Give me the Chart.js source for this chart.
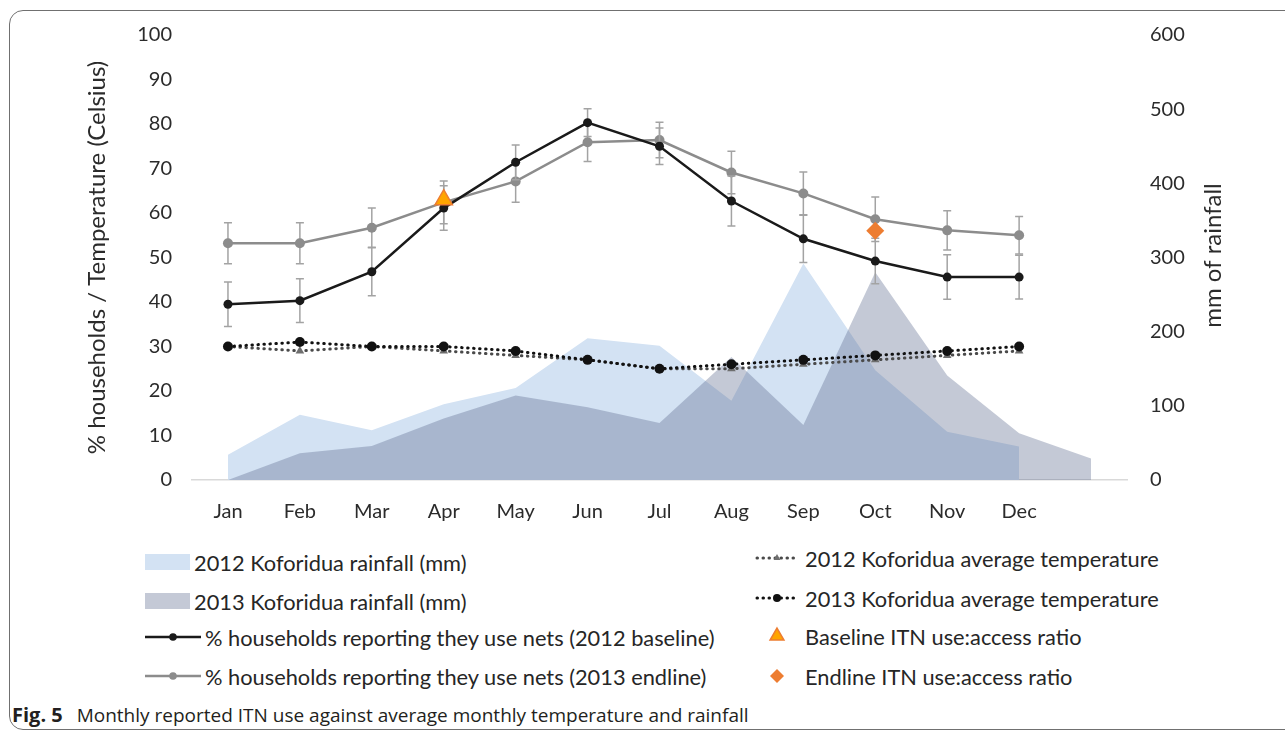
<!DOCTYPE html>
<html>
<head>
<meta charset="utf-8">
<title>Monthly reported ITN use, temperature and rainfall</title>
<script src="https://cdn.jsdelivr.net/npm/chart.js@4.4.1/dist/chart.umd.min.js"></script>
<style>
  html, body { margin: 0; padding: 0; background: #fff; }
  body { width: 1285px; height: 730px; position: relative; overflow: hidden;
         font-family: Lato, "Open Sans", sans-serif; color: #262626; }
  #frame { position: absolute; left: 9px; top: 10px; width: 1320px; height: 720px;
           border: 1.5px solid #707070; border-radius: 14px; box-sizing: border-box; }
  #chartBox { position: absolute; left: 0; top: 0; width: 1285px; height: 540px; }
  .legend-row { position: absolute; display: flex; align-items: center; height: 26px;
                font-size: 21.8px; white-space: nowrap; color: #262626; }
  .legend-row svg { flex: none; margin-right: 4px; }
  #caption { position: absolute; left: 12px; top: 704px; font-family: "Open Sans", sans-serif;
             font-size: 19px; color: #231f20; white-space: nowrap; line-height: 22px; }
  #caption b { font-weight: 700; font-size: 20px; margin-right: 9px; }
</style>
</head>
<body>
<div id="frame"></div>
<div id="chartBox"><canvas id="chart" width="1285" height="540"></canvas></div>
<div id="legend"></div>
<div id="caption"><b>Fig. 5</b> Monthly reported ITN use against average monthly temperature and rainfall</div>
<script>
// Months (the trailing empty category holds the last 2013 rainfall value)
const months = ['Jan', 'Feb', 'Mar', 'Apr', 'May', 'Jun', 'Jul', 'Aug', 'Sep', 'Oct', 'Nov', 'Dec', ''];

// Monthly rainfall, Koforidua (mm)
const rain2012 = [34, 88, 67, 102, 124, 191, 181, 107, 292, 148, 65, 45, null];
const rain2013 = [0, 36, 46, 83, 114, 98, 77, 166, 74, 280, 141, 63, 29];

// Average monthly temperature, Koforidua (Celsius)
const temp2012 = [30, 29, 30, 29, 28, 27, 25, 25, 26, 27, 28, 29];
const temp2013 = [30, 31, 30, 30, 29, 27, 25, 26, 27, 28, 29, 30];

// % households reporting they use nets, with error margins
const netUse2012 = [39.5, 40.3, 46.8, 61.1, 71.4, 80.3, 75.0, 62.7, 54.2, 49.2, 45.6, 45.6];
const netUse2012Err = [5.0, 4.9, 5.4, 5.0, 3.9, 3.1, 4.1, 5.6, 5.3, 5.1, 5.0, 4.9];
const netUse2013 = [53.2, 53.2, 56.7, 62.4, 67.1, 75.9, 76.4, 69.1, 64.4, 58.6, 56.1, 55.0];
const netUse2013Err = [4.6, 4.6, 4.4, 4.8, 4.7, 4.3, 4.0, 4.8, 4.8, 5.0, 4.4, 4.2];

// ITN use:access ratios
const baselineRatio = [null, null, null, 63, null, null, null, null, null, null, null, null];
const endlineRatio = [null, null, null, null, null, null, null, null, null, 56, null, null];

// Axis ticks
const leftTicks = [0, 10, 20, 30, 40, 50, 60, 70, 80, 90, 100];
const rightTicks = [0, 100, 200, 300, 400, 500, 600];

const TEXT = '#2b2b2b';
const FONT = 'Lato';

// Vertical error bars with caps, drawn just before the owning line
const errorBars = {
  id: 'errorBars',
  beforeDatasetDraw(chart, args) {
    const ds = chart.data.datasets[args.index];
    if (!ds.errors) return;
    const yScale = chart.scales[args.meta.yAxisID];
    const ctx = chart.ctx;
    ctx.save();
    ctx.strokeStyle = '#a3a3a3';
    ctx.lineWidth = 1.5;
    args.meta.data.forEach((pt, i) => {
      const v = ds.data[i], e = ds.errors[i];
      if (v == null || e == null) return;
      const yt = yScale.getPixelForValue(v + e);
      const yb = yScale.getPixelForValue(v - e);
      ctx.beginPath();
      ctx.moveTo(pt.x, yt); ctx.lineTo(pt.x, yb);
      ctx.moveTo(pt.x - 4, yt); ctx.lineTo(pt.x + 4, yt);
      ctx.moveTo(pt.x - 4, yb); ctx.lineTo(pt.x + 4, yb);
      ctx.stroke();
    });
    ctx.restore();
  }
};

// Right-axis title written bottom-to-top, like the left one
const risingTitle = {
  id: 'risingTitle',
  afterDraw(chart, args, opts) {
    const s = chart.scales[opts.scaleID];
    const ctx = chart.ctx;
    ctx.save();
    ctx.translate(s.right - opts.offset, (s.top + s.bottom) / 2 - 2);
    ctx.rotate(-Math.PI / 2);
    ctx.fillStyle = opts.color;
    ctx.font = `${opts.size}px ${FONT}`;
    ctx.textAlign = 'center';
    ctx.textBaseline = 'middle';
    ctx.fillText(opts.text, 0, 0);
    ctx.restore();
  }
};

const datasets = [
  {
    label: '2012 Koforidua rainfall (mm)', data: rain2012, yAxisID: 'y1',
    fill: 'origin', backgroundColor: '#d3e2f3', borderWidth: 0, pointRadius: 0, order: 20
  },
  {
    label: '2013 Koforidua rainfall (mm)', data: rain2013, yAxisID: 'y1',
    fill: 'origin', backgroundColor: 'rgba(92,106,140,0.36)', borderWidth: 0, pointRadius: 0, order: 19
  },
  {
    label: '% households reporting they use nets (2012 baseline)', data: netUse2012, errors: netUse2012Err,
    yAxisID: 'y', borderColor: '#1a1a1a', backgroundColor: '#1a1a1a', borderWidth: 2.5,
    pointRadius: 4.5, pointBorderWidth: 0, order: 3
  },
  {
    label: '% households reporting they use nets (2013 endline)', data: netUse2013, errors: netUse2013Err,
    yAxisID: 'y', borderColor: '#8c8c8c', backgroundColor: '#8c8c8c', borderWidth: 2.5,
    pointRadius: 5, pointBorderWidth: 0, order: 4
  },
  {
    label: '2012 Koforidua average temperature', data: temp2012, yAxisID: 'y',
    borderColor: '#4a4a4a', backgroundColor: '#6e6e6e', borderWidth: 3, borderDash: [0.5, 5.5],
    borderCapStyle: 'round', pointStyle: 'triangle', pointRadius: 5, pointBorderWidth: 0, order: 8
  },
  {
    label: '2013 Koforidua average temperature', data: temp2013, yAxisID: 'y',
    borderColor: '#111', backgroundColor: '#111', borderWidth: 3, borderDash: [0.5, 5.5],
    borderCapStyle: 'round', pointStyle: 'circle', pointRadius: 5, pointBorderWidth: 0, order: 7
  },
  {
    label: 'Baseline ITN use:access ratio', data: baselineRatio, yAxisID: 'y', showLine: false,
    pointStyle: 'triangle', pointRadius: 10, backgroundColor: '#ffa500', borderColor: '#ed7d31',
    pointBorderWidth: 1.5, order: 1
  },
  {
    label: 'Endline ITN use:access ratio', data: endlineRatio, yAxisID: 'y', showLine: false,
    pointStyle: 'rectRot', pointRadius: 9, backgroundColor: '#ed7d31', borderColor: '#ed7d31',
    pointBorderWidth: 0, order: 1
  }
];

const chart = new Chart(document.getElementById('chart'), {
  type: 'line',
  data: { labels: months, datasets },
  plugins: [errorBars, risingTitle],
  options: {
    responsive: false,
    animation: false,
    elements: { line: { tension: 0 } },
    layout: { padding: { top: 33, left: 0, right: 0, bottom: 0 } },
    plugins: {
      legend: { display: false },
      tooltip: { enabled: false },
      risingTitle: { scaleID: 'y1', text: 'mm of rainfall', offset: 72, size: 24, color: TEXT }
    },
    scales: {
      x: {
        offset: true,
        grid: { display: false, drawTicks: false },
        border: { display: true, color: '#d9d9d9', width: 1.5 },
        ticks: { color: TEXT, font: { family: FONT, size: 20 }, padding: 20, maxRotation: 0, autoSkip: false },
        afterFit(s) { s.height = 60; }
      },
      y: {
        position: 'left', min: 0, max: 100,
        afterBuildTicks(s) { s.ticks = leftTicks.map(v => ({ value: v })); },
        grid: { display: false, drawTicks: false },
        border: { display: false },
        ticks: { color: TEXT, font: { family: FONT, size: 20 }, padding: 20 },
        title: { display: true, text: '% households / Temperature (Celsius)', color: TEXT,
                 font: { family: FONT, size: 24 }, padding: { top: 83 } },
        afterFit(s) { s.width = 192; }
      },
      y1: {
        position: 'right', min: 0, max: 600,
        afterBuildTicks(s) { s.ticks = rightTicks.map(v => ({ value: v })); },
        grid: { display: false, drawTicks: false },
        border: { display: false },
        ticks: { color: TEXT, font: { family: FONT, size: 20 }, padding: 23 },
        title: { display: false },
        afterFit(s) { s.width = 158; }
      }
    }
  }
});

// Two-column legend built from the datasets
const legendPlacement = {
  0: { left: 145, top: 549 }, 1: { left: 145, top: 588 }, 2: { left: 145, top: 624 }, 3: { left: 145, top: 663 },
  4: { left: 755, top: 545 }, 5: { left: 755, top: 585 }, 6: { left: 755, top: 623 }, 7: { left: 755, top: 663 }
};

function markerSVG(style, cx, cy, r, fill, stroke, sw) {
  if (style === 'triangle') {
    const h = r * 1.5, w = r * Math.sqrt(3) / 2;
    return `<polygon points="${cx},${cy - r} ${cx + w},${cy + h - r} ${cx - w},${cy + h - r}" fill="${fill}" stroke="${stroke}" stroke-width="${sw}"/>`;
  }
  if (style === 'rectRot') {
    return `<polygon points="${cx},${cy - r} ${cx + r},${cy} ${cx},${cy + r} ${cx - r},${cy}" fill="${fill}"/>`;
  }
  return `<circle cx="${cx}" cy="${cy}" r="${r}" fill="${fill}"/>`;
}

function swatch(ds) {
  if (ds.fill) {
    return `<svg width="45" height="16"><rect x="0" y="0" width="45" height="16" fill="${ds.backgroundColor}"/></svg>`;
  }
  if (ds.showLine === false) {
    const r = ds.pointStyle === 'triangle' ? 8 : 7;
    return `<svg width="46" height="22">${markerSVG(ds.pointStyle, 22, 11, r, ds.backgroundColor, ds.borderColor, ds.pointBorderWidth)}</svg>`;
  }
  if (ds.borderDash) {
    return `<svg width="46" height="16"><line x1="2" y1="8" x2="44" y2="8" stroke="${ds.borderColor}" stroke-width="3" stroke-linecap="round" stroke-dasharray="0.5 5.5"/>` +
      markerSVG(ds.pointStyle, 22, 8, 4, ds.backgroundColor, 'none', 0) + `</svg>`;
  }
  return `<svg width="56" height="16"><line x1="0" y1="8" x2="56" y2="8" stroke="${ds.borderColor}" stroke-width="2.5"/>` +
    `<circle cx="28" cy="8" r="3.8" fill="${ds.backgroundColor}"/></svg>`;
}

const legendEl = document.getElementById('legend');
datasets.forEach((ds, i) => {
  const row = document.createElement('div');
  row.className = 'legend-row';
  row.style.left = legendPlacement[i].left + 'px';
  row.style.top = legendPlacement[i].top + 'px';
  row.innerHTML = swatch(ds) + `<span>${ds.label}</span>`;
  legendEl.appendChild(row);
});
</script>
</body>
</html>
